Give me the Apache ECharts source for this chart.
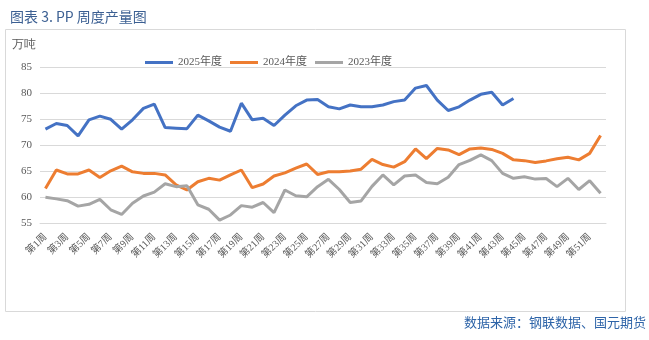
<!DOCTYPE html>
<html><head><meta charset="utf-8">
<script src="https://cdn.jsdelivr.net/npm/echarts@6/dist/echarts.min.js"></script>
<style>html,body{margin:0;padding:0;background:#fff}#c{width:649px;height:340px}</style>
</head><body><div id="c"></div>
<script>
const weeks = [];
for (let w = 1; w <= 52; w++) weeks.push('第' + w + '周');
const y2025 = [73.1,74.2,73.8,71.8,74.9,75.6,75.0,73.1,74.9,77.1,77.9,73.4,73.3,73.2,75.8,74.7,73.5,72.7,78.1,74.9,75.2,73.8,75.8,77.6,78.7,78.8,77.4,77.0,77.75,77.4,77.4,77.75,78.4,78.7,81.0,81.5,78.7,76.7,77.4,78.7,79.8,80.2,77.75,79.0];
const y2024 = [61.7,65.25,64.5,64.5,65.25,63.8,65.1,66.0,64.9,64.6,64.6,64.3,62.4,61.4,63.0,63.65,63.3,64.3,65.25,61.85,62.55,64.1,64.7,65.6,66.4,64.4,64.9,64.9,65.05,65.4,67.3,66.3,65.8,66.85,69.3,67.45,69.4,69.1,68.2,69.3,69.5,69.2,68.45,67.2,67.05,66.7,67.0,67.4,67.7,67.2,68.45,71.9];
const y2023 = [60.0,59.7,59.35,58.3,58.65,59.6,57.6,56.7,58.85,60.25,61.0,62.6,62.05,62.2,58.55,57.7,55.6,56.6,58.4,58.1,59.0,57.05,61.4,60.3,60.1,62.05,63.45,61.5,59.0,59.3,62.1,64.3,62.4,64.1,64.3,62.85,62.6,63.85,66.3,67.1,68.15,67.05,64.6,63.65,63.95,63.5,63.6,62.05,63.65,61.5,63.2,60.8];
const seriesNames = ['2025年度','2024年度','2023年度'];
const colors = ['#4472C4','#ED7D31','#A5A5A5'];
const yMin = 55, yMax = 85, yStep = 5;

const chart = echarts.init(document.getElementById('c'), null, {renderer:'canvas'});
const serif = '"Liberation Serif","Noto Sans CJK SC",serif';
chart.setOption({
  animation:false,
  title:{text:'图表 3. PP 周度产量图', left:5, top:5, textStyle:{fontSize:14, fontWeight:'normal', color:'#3b5f92', fontFamily:'"Noto Sans CJK SC",sans-serif'}},
  graphic:[
    {type:'rect', shape:{x:5.5,y:29.5,width:620,height:282}, style:{fill:'none', stroke:'#d9d9d9', lineWidth:1}, silent:true},
    {type:'text', left:12, top:39, style:{text:'万吨', fontSize:12, fill:'#595959', font:'12px "Noto Sans CJK SC",sans-serif'}},
    {type:'text', right:3, top:316, style:{text:'数据来源：钢联数据、国元期货', fill:'#2e64a8', font:'13px "Noto Sans CJK SC",sans-serif'}}
  ],
  legend:{top:52, left:140, itemWidth:28, itemHeight:3, itemGap:8, icon:'rect',
    textStyle:{fontSize:11, color:'#595959', fontFamily:serif},
    data:seriesNames},
  grid:{left:40, right:43, top:67.3, bottom:116.7, containLabel:false},
  xAxis:{type:'category', data:weeks, boundaryGap:true,
    axisLine:{show:true, lineStyle:{color:'#d9d9d9'}}, axisTick:{show:false},
    axisLabel:{interval:1, rotate:45, fontSize:10, color:'#595959', fontFamily:serif, margin:12}},
  yAxis:{type:'value', min:yMin, max:yMax, interval:yStep,
    axisLine:{show:false}, axisTick:{show:false},
    axisLabel:{fontSize:11, color:'#595959', fontFamily:serif, margin:8},
    splitLine:{lineStyle:{color:'#d9d9d9', width:1}}},
  series:[
    {name:seriesNames[0], type:'line', data:y2025, symbol:'none', lineStyle:{width:3, color:colors[0]}, itemStyle:{color:colors[0]}},
    {name:seriesNames[1], type:'line', data:y2024, symbol:'none', lineStyle:{width:3, color:colors[1]}, itemStyle:{color:colors[1]}},
    {name:seriesNames[2], type:'line', data:y2023, symbol:'none', lineStyle:{width:3, color:colors[2]}, itemStyle:{color:colors[2]}}
  ]
});
</script></body></html>
